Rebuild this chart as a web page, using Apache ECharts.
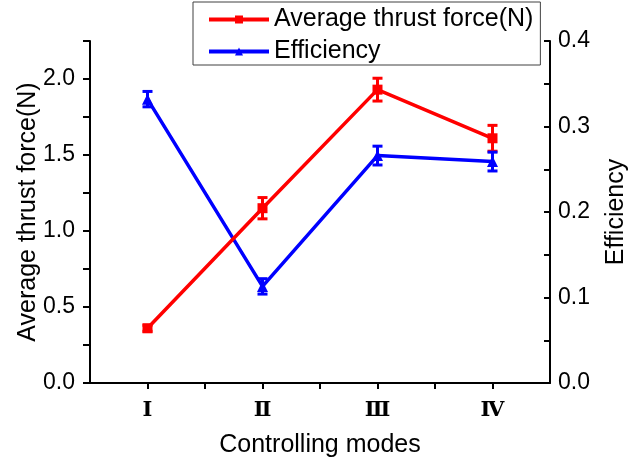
<!DOCTYPE html>
<html>
<head>
<meta charset="utf-8">
<script src="https://cdn.jsdelivr.net/npm/echarts@6/dist/echarts.min.js"></script>
<style>
  html, body { margin: 0; padding: 0; background: #fff; }
  #chart { width: 642px; height: 466px; }
</style>
</head>
<body>
<div id="chart"></div>
<script>
// Controlling modes on the x axis (positions 1..4)
const modes = ['Ⅰ', 'Ⅱ', 'Ⅲ', 'Ⅳ'];
const modePos = [1, 2, 3, 4];

// Average thrust force (N) with error
const thrust = [0.36, 1.15, 1.93, 1.61];
const thrustErr = [0.02, 0.07, 0.075, 0.085];

// Efficiency with error
const efficiency = [0.332, 0.113, 0.266, 0.259];
const efficiencyErr = [0.009, 0.009, 0.011, 0.011];

// Tick values
const leftLabels = [0, 0.5, 1.0, 1.5, 2.0];
const leftTicks = [0, 0.25, 0.5, 0.75, 1.0, 1.25, 1.5, 1.75, 2.0, 2.25];
const rightLabels = [0, 0.1, 0.2, 0.3, 0.4];
const rightTicks = [0, 0.05, 0.1, 0.15, 0.2, 0.25, 0.3, 0.35, 0.4];
const xTicks = [1, 1.5, 2, 2.5, 3, 3.5, 4];

const RED = '#ff0000';
const BLUE = '#0000ff';
const FONT = '"Liberation Sans", Arial, sans-serif';

function pairs(xs, ys) { return xs.map((x, i) => [x, ys[i]]); }

function errorSeries(name, vals, errs, color, yAxisIndex) {
  return {
    name: name,
    type: 'custom',
    yAxisIndex: yAxisIndex,
    data: modePos.map((x, i) => [x, vals[i] - errs[i], vals[i] + errs[i]]),
    renderItem: function (params, api) {
      const lo = api.coord([api.value(0), api.value(1)]);
      const hi = api.coord([api.value(0), api.value(2)]);
      const hw = 5;
      const style = { stroke: color, lineWidth: 3 };
      return {
        type: 'group',
        children: [
          { type: 'line', shape: { x1: lo[0], y1: lo[1], x2: hi[0], y2: hi[1] }, style: style },
          { type: 'line', shape: { x1: lo[0] - hw, y1: lo[1], x2: lo[0] + hw, y2: lo[1] }, style: style },
          { type: 'line', shape: { x1: hi[0] - hw, y1: hi[1], x2: hi[0] + hw, y2: hi[1] }, style: style }
        ]
      };
    },
    z: 3
  };
}

const chart = echarts.init(document.getElementById('chart'), null, { renderer: 'canvas' });

chart.setOption({
  animation: false,
  backgroundColor: '#ffffff',
  grid: { left: 90, right: 92, top: 41, bottom: 83 },
  legend: {
    data: ['Average thrust force(N)', 'Efficiency'],
    orient: 'vertical',
    left: 193,
    top: 2,
    padding: [5, 7, 1, 14],
    itemGap: 7,
    itemWidth: 60,
    itemHeight: 10,
    lineStyle: { width: 4 },
    borderColor: '#404040',
    borderWidth: 1,
    backgroundColor: '#ffffff',
    textStyle: { fontFamily: FONT, fontSize: 25, color: '#000' }
  },
  xAxis: {
    type: 'value',
    min: 0.5,
    max: 4.5,
    name: 'Controlling modes',
    nameLocation: 'middle',
    nameGap: 50,
    nameMoveOverlap: false,
    nameTextStyle: { fontFamily: FONT, fontSize: 25, color: '#000' },
    splitLine: { show: false },
    axisLine: { show: true, onZero: false, lineStyle: { color: '#000', width: 2 } },
    axisTick: { show: true, inside: false, length: 6, customValues: xTicks, lineStyle: { color: '#000', width: 2 } },
    axisLabel: {
      customValues: modePos,
      margin: 17,
      fontFamily: '"DejaVu Serif", "Liberation Serif", serif',
      fontSize: 21,
      fontWeight: 'bold',
      color: '#000',
      formatter: function (v) { return modes[Math.round(v) - 1] || ''; }
    }
  },
  yAxis: [
    {
      type: 'value',
      min: 0,
      max: 2.25,
      position: 'left',
      name: 'Average thrust force(N)',
      nameLocation: 'middle',
      nameRotate: 90,
      nameGap: 49,
      nameMoveOverlap: false,
      nameTextStyle: { fontFamily: FONT, fontSize: 25, color: '#000' },
      splitLine: { show: false },
      axisLine: { show: true, onZero: false, lineStyle: { color: '#000', width: 2 } },
      axisTick: { show: true, inside: false, length: 7, customValues: leftTicks, lineStyle: { color: '#000', width: 2 } },
      axisLabel: {
        customValues: leftLabels,
        margin: 15,
        fontFamily: FONT,
        fontSize: 23,
        color: '#000',
        formatter: function (v) { return v.toFixed(1); }
      }
    },
    {
      type: 'value',
      min: 0,
      max: 0.4,
      position: 'right',
      name: 'Efficiency',
      nameLocation: 'middle',
      nameRotate: 90,
      nameGap: 54,
      nameMoveOverlap: false,
      nameTextStyle: { fontFamily: FONT, fontSize: 25, color: '#000' },
      splitLine: { show: false },
      axisLine: { show: true, onZero: false, lineStyle: { color: '#000', width: 2 } },
      axisTick: { show: true, inside: true, length: 6, customValues: rightTicks, lineStyle: { color: '#000', width: 2 } },
      axisLabel: {
        customValues: rightLabels,
        margin: 8,
        fontFamily: FONT,
        fontSize: 23,
        color: '#000',
        formatter: function (v) { return v.toFixed(1); }
      }
    }
  ],
  series: [
    errorSeries('thrust error', thrust, thrustErr, RED, 0),
    errorSeries('efficiency error', efficiency, efficiencyErr, BLUE, 1),
    {
      name: 'Efficiency',
      type: 'line',
      yAxisIndex: 1,
      data: pairs(modePos, efficiency),
      symbol: 'triangle',
      symbolSize: 11,
      lineStyle: { color: BLUE, width: 3.5 },
      itemStyle: { color: BLUE },
      z: 4
    },
    {
      name: 'Average thrust force(N)',
      type: 'line',
      yAxisIndex: 0,
      data: pairs(modePos, thrust),
      symbol: 'rect',
      symbolSize: 10,
      lineStyle: { color: RED, width: 3.5 },
      itemStyle: { color: RED },
      z: 5
    }
  ]
});
</script>
</body>
</html>
